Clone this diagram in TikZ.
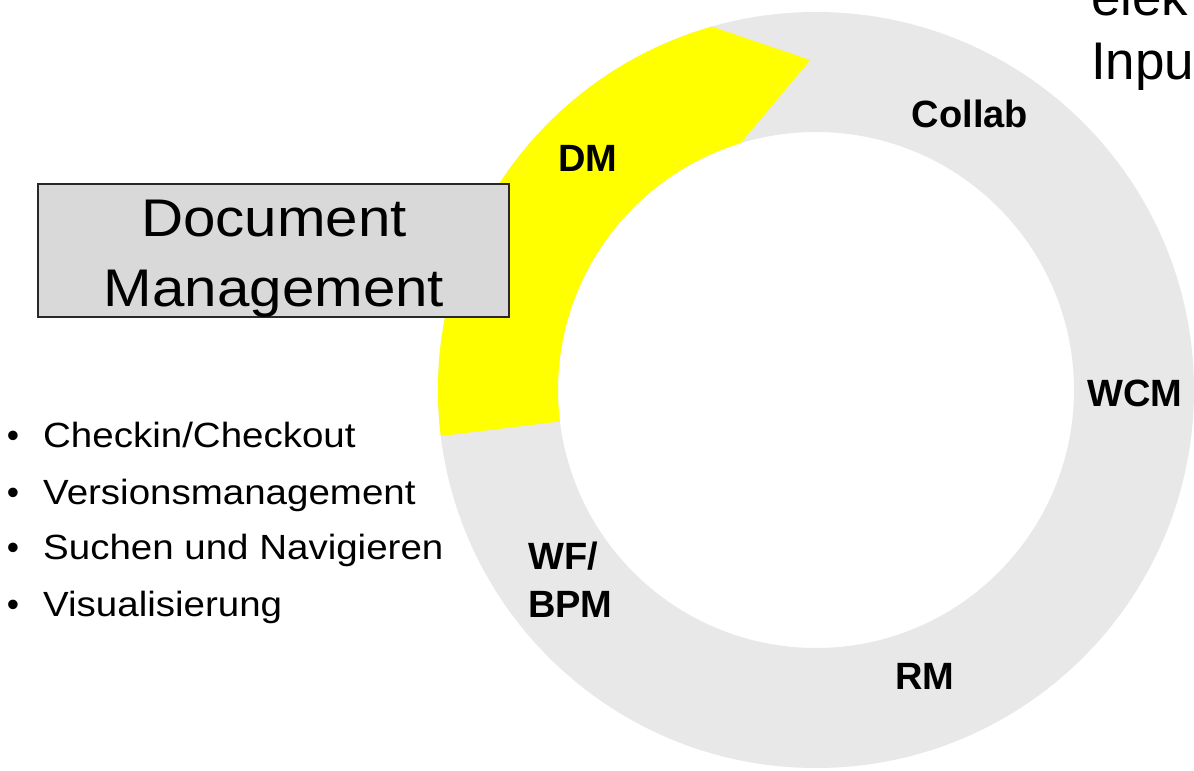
\documentclass[tikz,border=0pt]{standalone}
\usepackage{fontspec}
\setmainfont{Liberation Sans}
\newfontfamily\regwide{Liberation Sans}[FakeStretch=1.1]
\usetikzlibrary{calc}
\definecolor{ringgray}{RGB}{232,232,232}
\definecolor{boxgray}{RGB}{217,217,217}
\definecolor{boxborder}{RGB}{40,40,40}
\definecolor{dmyellow}{RGB}{255,255,0}
\tikzset{
  seglabel/.style={font=\fontsize{38}{46}\selectfont\bfseries, inner sep=0pt, anchor=base},
  titletext/.style={font=\regwide\fontsize{53}{60}\selectfont, inner sep=0pt, anchor=base},
  itemtext/.style={font=\regwide\fontsize{35}{40}\selectfont, inner sep=0pt, anchor=base west},
  bulletmark/.style={font=\fontsize{35}{40}\selectfont, inner sep=0pt, anchor=base},
  cuttext/.style={font=\fontsize{53}{60}\selectfont, inner sep=0pt, anchor=base west},
  titlebox/.style={draw=boxborder, line width=2pt, fill=boxgray, inner sep=0pt,
                   minimum width=471pt, minimum height=133pt}
}
\begin{document}
\begin{tikzpicture}[x=1pt,y=1pt]
\useasboundingbox (0,0) rectangle (1194,771);
\clip (0,0) rectangle (1194,771);
\fill[white] (0,0) rectangle (1194,771);

% ring
\coordinate (ctr) at (816,381);
\begin{scope}[shift={(ctr)}]
  \fill[ringgray, even odd rule] (0,0) circle[radius=378] (0,0) circle[radius=258];
  \fill[dmyellow] (187:378) arc[start angle=187, end angle=106, radius=378]
     -- (91:330) -- (107:258) arc[start angle=107, end angle=187, radius=258] -- cycle;
\end{scope}

% segment labels
\node[seglabel] (dm) at (588,599) {DM};
\node[seglabel] (collab) at (970,643) {Collab};
\node[seglabel] (wcm) at (1135,364) {WCM};
\node[seglabel] (rm) at (925,81) {RM};
\node[seglabel, anchor=base west] (wf) at (528,201) {WF/};
\node[seglabel, anchor=base west] (bpm) at (528,153) {BPM};

% title box
\node[titlebox] (dmbox) at (273.5,520.5) {};
\node[titletext] (doc1) at (274,534) {Document};
\node[titletext] (doc2) at (274,464) {Management};

% bullet list
\node[bulletmark] (b1) at (13,323) {•};
\node[itemtext] (i1) at (43,323) {Checkin/Checkout};
\node[bulletmark] (b2) at (13,266) {•};
\node[itemtext] (i2) at (43,266) {Versionsmanagement};
\node[bulletmark] (b3) at (13,211) {•};
\node[itemtext] (i3) at (43,211) {Suchen und Navigieren};
\node[bulletmark] (b4) at (13,154) {•};
\node[itemtext] (i4) at (43,154) {Visualisierung};

% cut-off text top right
\node[cuttext] (el) at (1091,755) {elek};
\node[cuttext] (inp) at (1091,691) {Inpu};
\end{tikzpicture}
\end{document}
